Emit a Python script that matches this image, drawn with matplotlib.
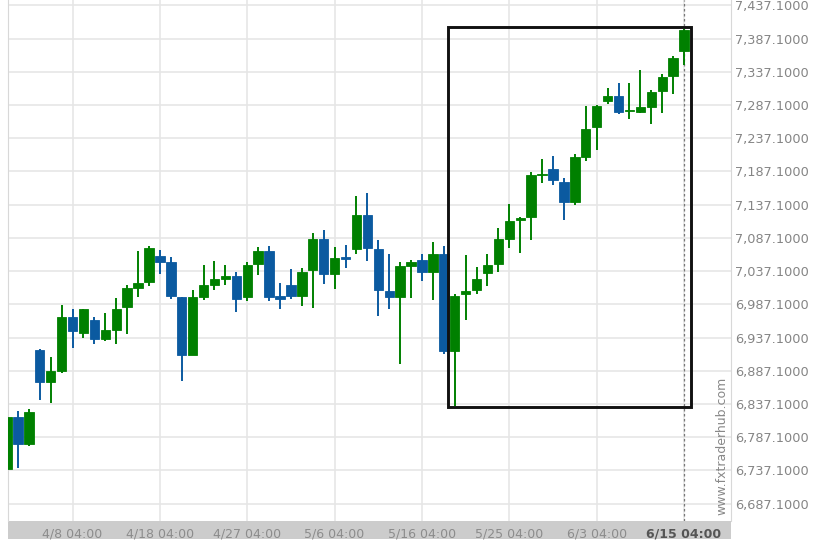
import matplotlib.pyplot as plt
from matplotlib.patches import Rectangle
import numpy as np

# daily candles
opens = [6739.0, 6816.9, 6776.7, 6918.6, 6869.7, 6887.3, 6967.8, 6943.6, 6963.8, 6935.2,
         6947.7, 6982.9, 7012.1, 7020.6, 7059.4, 7051.4, 6998.0, 6911.0, 6998.0, 7016.7,
         7024.7, 7029.6, 6998.0, 7047.3, 7066.9, 6999.0, 7015.6, 6999.5, 7039.3, 7086.1,
         7032.7, 7057.8, 7070.0, 7121.2, 7071.0, 7007.0, 6998.0, 7045.3, 7054.4, 7035.2,
         7063.4, 6916.5, 7002.0, 7008.1, 7034.8, 7047.3, 7086.1, 7113.7, 7117.8, 7182.0,
         7190.6, 7170.6, 7140.4, 7209.2, 7254.5, 7293.7, 7300.8, 7278.1, 7277.1, 7284.7,
         7308.4, 7331.0, 7367.7]
closes = [6817.0, 6776.7, 6825.4, 6869.7, 6887.3, 6967.8, 6946.2, 6980.4, 6935.2, 6947.7,
          6980.4, 7011.5, 7019.7, 7071.9, 7051.4, 6999.5, 6911.0, 6998.0, 7015.6, 7025.7,
          7029.6, 6995.5, 7046.8, 7066.9, 6998.0, 6995.5, 6999.5, 7035.7, 7086.1, 7032.2,
          7056.8, 7055.8, 7121.2, 7071.9, 7008.1, 6998.0, 7044.3, 7051.4, 7035.2, 7063.4,
          6917.5, 6999.0, 7007.0, 7025.7, 7045.8, 7086.1, 7112.6, 7117.2, 7181.6, 7182.7,
          7174.0, 7140.4, 7208.3, 7251.0, 7286.2, 7300.8, 7277.1, 7279.1, 7283.7, 7307.3,
          7329.0, 7358.6, 7400.4]
highs = [6817.0, 6827.0, 6829.4, 6920.1, 6907.4, 6986.5, 6980.4, 6980.4, 6967.8, 6974.4,
         6997.1, 7015.6, 7066.9, 7074.9, 7069.5, 7058.3, 6998.0, 7009.1, 7045.8, 7052.3,
         7045.8, 7035.7, 7050.8, 7073.4, 7074.9, 7019.1, 7039.7, 7041.7, 7095.1, 7099.6,
         7073.4, 7077.0, 7149.9, 7154.0, 7083.5, 7062.4, 7050.8, 7054.4, 7062.4, 7080.9,
         7074.9, 7002.0, 7060.9, 7043.2, 7063.4, 7102.1, 7137.4, 7118.7, 7185.7, 7205.7,
         7210.3, 7176.6, 7213.3, 7285.7, 7287.2, 7313.3, 7320.0, 7320.0, 7340.0, 7309.9,
         7333.6, 7361.2, 7401.5]
lows = [6739.0, 6741.4, 6774.1, 6843.1, 6838.0, 6883.9, 6921.6, 6936.1, 6927.6, 6931.6,
        6927.6, 6942.7, 6998.0, 7014.1, 7033.3, 6994.5, 6872.3, 6911.0, 6993.0, 7009.1,
        7015.6, 6975.3, 6991.9, 7030.7, 6991.9, 6979.4, 6995.5, 6983.9, 6981.9, 7017.1,
        7010.6, 7042.3, 7062.4, 7052.3, 6969.3, 6979.4, 6897.4, 6997.0, 7021.6, 6993.0,
        6912.5, 6834.5, 6962.8, 7002.0, 7014.5, 7035.7, 7072.5, 7064.4, 7083.5, 7170.0,
        7166.5, 7114.7, 7136.3, 7203.2, 7219.3, 7288.3, 7273.2, 7265.6, 7275.6, 7258.6,
        7275.6, 7303.8, 7347.6]

date_labels = ['4/8 04:00', '4/18 04:00', '4/27 04:00', '5/6 04:00',
               '5/16 04:00', '5/25 04:00', '6/3 04:00', '6/15 04:00']
date_idx = [6, 14, 22, 30, 38, 46, 54, 62]
y_ticks = [6687.1 + 50 * k for k in range(16)]

# pattern box (start/end candle, low/high)
box_x = [40.4, 62.6]
box_y = [6832.9, 7405.0]

green = '#008000'
blue = '#0b5aa0'

fig = plt.figure(figsize=(8.22, 5.48), dpi=100)
ax = fig.add_axes([8 / 822, 27 / 548, 723 / 822, 521 / 548])

x = np.arange(len(opens))
o = np.array(opens)
c = np.array(closes)
up = c >= o
cols = [green if u else blue for u in up]
body = np.abs(c - o)
body = np.maximum(body, 1.2)
bottom = np.minimum(o, c)

ax.vlines(x, lows, highs, colors=cols, linewidth=1.4, zorder=3)
ax.bar(x, body, bottom=bottom, width=0.86, color=cols, edgecolor=cols, linewidth=0.6, zorder=4)

ax.add_patch(Rectangle((box_x[0], box_y[0]), box_x[1] - box_x[0], box_y[1] - box_y[0],
                       fill=False, edgecolor='#111111', linewidth=2.1, zorder=5))
ax.axvline(62, color='#777777', linestyle=(0, (2, 2)), linewidth=0.9, zorder=2)

ax.set_xlim(0.09, 66.3)
ax.set_ylim(6660.9, 7445.2)

ax.set_yticks(y_ticks)
ax.set_yticklabels(['{:,.4f}'.format(v) for v in y_ticks])
ax.yaxis.tick_right()
ax.tick_params(axis='y', length=0, pad=3, labelsize=9.3, labelcolor='#858585')

ax.set_xticks(date_idx)
ax.set_xticklabels(date_labels)
ax.tick_params(axis='x', length=0, pad=4.5, labelsize=9, labelcolor='#8c8c8c')
last = ax.get_xticklabels()[-1]
last.set_fontweight('bold')
last.set_color('#555555')

ax.grid(True, color='#e6e6e6', linewidth=1.2, zorder=0)
ax.set_axisbelow(True)
for s in ['top', 'bottom']:
    ax.spines[s].set_visible(False)
ax.spines['left'].set_color('#d8d8d8')
ax.spines['right'].set_color('#d8d8d8')

ax.add_patch(Rectangle((8 / 822, 9 / 548), 723 / 822, 18 / 548, transform=fig.transFigure,
                       facecolor='#cccccc', edgecolor='none', clip_on=False, zorder=0))

fig.text(722 / 822, 33 / 548, 'www.fxtraderhub.com', rotation=90, ha='center', va='bottom',
         fontsize=9, color='#888888')

fig.savefig('out.png', dpi=100)
